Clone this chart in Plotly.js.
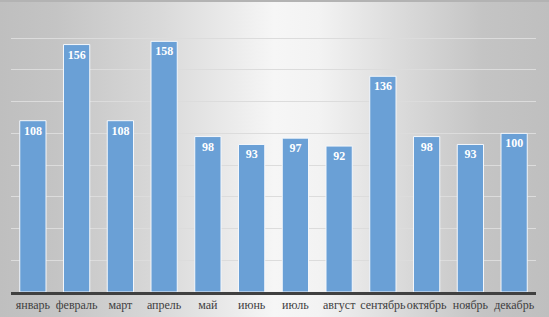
<!DOCTYPE html>
<html>
<head>
<meta charset="utf-8">
<script src="https://cdn.plot.ly/plotly-3.0.1.min.js"></script>
<style>
  html, body { margin: 0; padding: 0; }
  body {
    width: 549px; height: 317px; overflow: hidden;
    background: linear-gradient(to right, #bfbfbf 0%, #c4c4c4 10%, #dadada 30%, #f6f6f6 50%, #f3f3f3 58%, #dcdcdc 72%, #c4c4c4 88%, #bfbfbf 100%);
    border-top: 2px solid #b3b3b3;
    box-sizing: border-box;
  }
  #chart { width: 549px; height: 315px; }
</style>
</head>
<body>
<div id="chart"></div>
<script>
const months = ["январь", "февраль", "март", "апрель", "май", "июнь", "июль", "август", "сентябрь", "октябрь", "ноябрь", "декабрь"];
const values = [108, 156, 108, 158, 98, 93, 97, 92, 136, 98, 93, 100];

const trace = {
  type: "bar",
  x: months,
  y: values,
  text: values.map(String),
  textposition: "inside",
  insidetextanchor: "end",
  textangle: 0,
  textfont: { family: "Liberation Serif, serif", size: 12, color: "#ffffff", weight: "bold" },
  marker: { color: "#6aa0d6", line: { color: "#f4f7fb", width: 1 } },
  width: 0.6,
  hoverinfo: "none"
};

const layout = {
  width: 549,
  height: 315,
  margin: { l: 11, r: 13, t: 4, b: 25 },
  paper_bgcolor: "rgba(0,0,0,0)",
  plot_bgcolor: "rgba(0,0,0,0)",
  showlegend: false,
  bargap: 0.4,
  xaxis: {
    type: "category",
    showline: true,
    linecolor: "#404040",
    linewidth: 3,
    ticks: "",
    tickangle: 0,
    automargin: false,
    showgrid: false,
    tickfont: { family: "Liberation Serif, serif", size: 12, color: "#404040" },
    fixedrange: true
  },
  yaxis: {
    range: [0, 180.3],
    tickvals: [20, 40, 60, 80, 100, 120, 140, 160, 180],
    showgrid: true,
    gridcolor: "#dcdcdc",
    gridwidth: 1,
    zeroline: false,
    showticklabels: false,
    ticks: "",
    fixedrange: true
  }
};

Plotly.newPlot("chart", [trace], layout, { displayModeBar: false, staticPlot: true });
</script>
</body>
</html>
